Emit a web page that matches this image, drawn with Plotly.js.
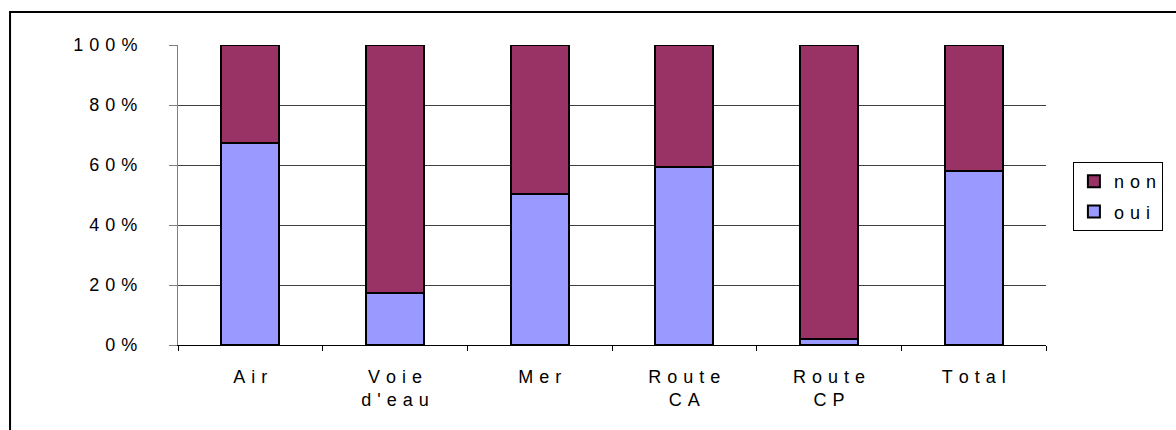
<!DOCTYPE html>
<html>
<head>
<meta charset="utf-8">
<script src="https://cdn.plot.ly/plotly-3.0.1.min.js"></script>
<style>html,body{margin:0;padding:0;background:#fff;}#chart{width:1176px;height:430px;}</style>
</head>
<body>
<div id="chart"></div>
<script>
const categories = ["Air", "Voie d'eau", "Mer", "Route CA", "Route CP", "Total"];
const categoryLabels = ["Air", "Voie<br>d'eau", "Mer", "Route<br>CA", "Route<br>CP", "Total"];
const ouiValues = [67.2, 17.4, 50.2, 59.4, 2.0, 58.0];
const nonValues = [32.8, 82.6, 49.8, 40.6, 98.0, 42.0];
const yTickVals = [0, 20, 40, 60, 80, 100];
const yTickText = ["0%", "20%", "40%", "60%", "80%", "100%"];
const seriesNames = ["oui", "non"];

// widen letter spacing like the original (three-per-em space between characters)
function spaced(s) {
  return s.split("<br>").map(function (line) { return line.split("").join("\u2004"); }).join("<br>");
}

const font = {family: "Liberation Sans, Arial, sans-serif", size: 18, color: "#000"};

const traces = [
  {type: "bar", name: spaced(seriesNames[0]), x: categories, y: ouiValues,
   legendrank: 2, legendgroup: "oui",
   marker: {color: "#9999FF", line: {color: "#000", width: 2}}},
  {type: "bar", name: spaced(seriesNames[1]), x: categories, y: nonValues,
   legendrank: 1, legendgroup: "non",
   marker: {color: "#993366", line: {color: "#000", width: 2}}}
];

const layout = {
  width: 1176, height: 430,
  margin: {l: 178, r: 130, t: 45, b: 85, autoexpand: false},
  barmode: "stack",
  bargap: 0.6,
  paper_bgcolor: "#fff", plot_bgcolor: "#fff",
  font: font,
  showlegend: true,
  legend: {x: 1.031, xanchor: "left", y: 0.61, yanchor: "top",
           traceorder: "grouped", tracegroupgap: 4, itemwidth: 30,
           bordercolor: "#000", borderwidth: 1,
           font: font, bgcolor: "#fff"},
  xaxis: {type: "category", tickson: "boundaries", ticks: "outside", ticklen: 5,
          tickcolor: "#000", tickvals: categories, ticktext: categoryLabels.map(spaced),
          showline: true, linecolor: "#000", linewidth: 1, showgrid: false,
          tickfont: font, ticklabelstandoff: 15},
  yaxis: {range: [0, 100], tickvals: yTickVals, ticktext: yTickText.map(spaced),
          ticks: "outside", ticklen: 8, tickcolor: "#808080",
          showline: true, linecolor: "#808080", linewidth: 1,
          showgrid: true, gridcolor: "#404040", gridwidth: 1,
          zeroline: false, tickfont: font, ticklabelstandoff: 28},
  shapes: [{type: "rect", xref: "paper", yref: "paper",
            x0: -0.1935, x1: 2, y0: -2, y1: 1.11,
            line: {color: "#000", width: 2}}]
};

Plotly.newPlot("chart", traces, layout, {displayModeBar: false, staticPlot: true});
</script>
</body>
</html>
